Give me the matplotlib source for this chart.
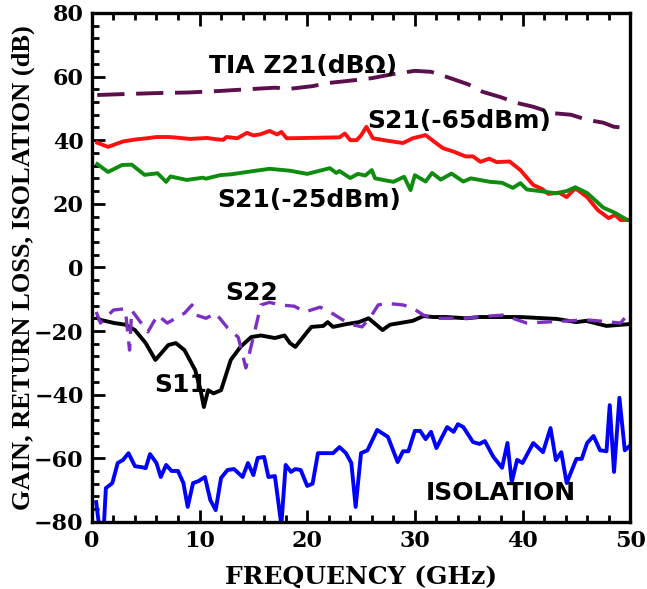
"""Gain, return loss and isolation versus frequency."""

import matplotlib

matplotlib.use("Agg")
import matplotlib.pyplot as plt
from matplotlib.ticker import MultipleLocator

# TIA transimpedance Z21 (dB-ohm)
tia_f = [0.5, 3, 6, 9, 12, 14.4, 17, 18.5, 20.5, 22, 23.7, 26, 28, 30, 31.5,
         33.3, 35, 36.3, 38, 39.5, 41, 42.8, 44.5, 46, 47.5, 48.5, 50]
tia_db = [54.2, 54.5, 54.8, 55, 55.5, 56, 56.5, 56.2, 57, 58, 58.6, 59.5, 60.8,
          61.8, 61.5, 59.5, 57.5, 55.2, 53.5, 51.7, 50.5, 48.5, 48, 46.4, 45.5,
          44.2, 43.8]

# S21 at -65 dBm input
s21a_f = [0.5, 1.5, 2.9, 4, 5.1, 6, 7.2, 8.2, 9.1, 10.7, 11.5, 12.2, 12.5, 13.5,
          14.4, 15, 15.6, 16.5, 17.2, 17.6, 18.1, 20, 23, 23.5, 24, 24.6, 25,
          25.5, 26.1, 27.5, 28.9, 29.8, 31, 32, 32.6, 33.6, 34.7, 35.4, 36.1,
          36.9, 37.6, 38.8, 39.8, 41, 41.8, 42.4, 43.4, 44.1, 44.9, 46, 47, 48,
          48.6, 49.1, 49.9]
s21a_db = [39.2, 37.9, 39.6, 40.2, 40.6, 41, 41, 40.7, 40.4, 40.7, 40.3, 40.1,
           41, 40.6, 42.3, 41.5, 41.8, 42.9, 41.8, 42.6, 40.6, 40.7, 40.9, 42.1,
           40, 40, 41.5, 44.2, 40.6, 39.8, 39.1, 40.6, 41.6, 39, 37.5, 36.4,
           34.9, 34.9, 33.2, 34.2, 33.1, 33.3, 30.6, 25.9, 24.7, 23.1, 23.5,
           22.1, 24.9, 22.1, 18, 15.5, 16.5, 14.9, 14.9]

# S21 at -25 dBm input
s21b_f = [0.5, 1.5, 2.8, 3.7, 4.9, 6.1, 6.9, 7.3, 8.8, 10.3, 10.6, 11.9, 13,
          14.4, 16.5, 18.4, 20, 22.1, 22.7, 23, 24, 24.7, 25.4, 26, 26.3, 28,
          29, 29.6, 30, 31, 31.6, 32.4, 33.4, 34.5, 35.2, 37, 38.1, 39.1, 39.8,
          40.4, 41.6, 43.1, 44.1, 44.9, 46, 47.5, 48.5, 49.7]
s21b_db = [32.5, 30, 32.2, 32.3, 29.1, 29.6, 26.9, 28.6, 27.5, 28.2, 27.9, 29,
           29.3, 30, 31, 30.4, 29.4, 31.2, 29.7, 30.3, 28.1, 29.4, 28.9, 30.6,
           28, 26.9, 28.5, 24.3, 29, 27, 29.7, 27.6, 29.5, 27, 28, 26.9, 26.6,
           25, 26.5, 24.5, 24, 23.3, 24, 25.2, 23.4, 18.8, 17.3, 15]

# S22
s22_f = [0.4, 0.8, 2, 3.1, 3.5, 3.7, 5.2, 6.1, 7, 8.6, 9.3, 9.7, 10.6, 11.5,
         12.6, 13.6, 14.3, 15, 15.7, 16.5, 17.5, 18.8, 19.8, 21.2, 22.3, 23.3,
         24.2, 25.1, 25.9, 26.6, 27.4, 28.9, 29.8, 30.8, 31.7, 33.3, 34.8, 36,
         38.2, 40.4, 43.2, 45.9, 47.7, 49.1, 49.5, 50]
s22_db = [-14, -17.5, -13.4, -13, -26, -13.5, -20.3, -15, -17.5, -14.4, -11.8,
          -15, -16, -14.4, -19, -22, -31.6, -21.9, -11.8, -11, -11.8, -12.2,
          -14, -12.5, -14.4, -16.5, -18, -18.7, -15.5, -11.8, -11.3, -11.8,
          -12.8, -15, -16, -16, -16, -15.5, -15, -17.5, -17, -16.5, -17, -17.5,
          -15.9, -17.5]

# S11
s11_f = [0.5, 0.8, 2.1, 3.1, 4, 5, 5.9, 7.1, 7.8, 8.6, 9.6, 10.1, 10.4, 10.8,
         11.3, 12, 12.9, 13.8, 14.8, 15.7, 17, 17.9, 18.4, 18.9, 20, 20.4, 21.5,
         21.9, 22.4, 23.7, 24.8, 25.7, 27, 27.7, 28.6, 29.8, 30.8, 31.7, 32.9,
         34.8, 36, 39.8, 43.2, 45, 45.9, 47.8, 50]
s11_db = [-15.9, -16.5, -17.5, -18, -19.7, -23.8, -29.1, -24.4, -23.8, -26,
          -32.3, -38.6, -43.9, -38.6, -39.6, -38.6, -29.1, -25, -21.9, -21.4,
          -22.2, -21.4, -23.8, -25, -20.3, -18.7, -18.4, -17.2, -18.7, -17.8,
          -17.2, -16, -19.7, -18, -17.5, -16.8, -15.3, -15.6, -15.6, -16,
          -15.6, -15.6, -16.2, -17.2, -16.8, -18.4, -17.8]

# Isolation
iso_f = [0.4, 0.7, 1.1, 1.3, 1.9, 2.4, 2.9, 3.4, 4, 4.6, 5, 5.4, 6, 6.4, 6.9,
         7.4, 8, 8.5, 8.9, 9.4, 9.9, 10.5, 11, 11.5, 12, 12.6, 13.2, 14, 14.5,
         15, 15.4, 16, 16.4, 17, 17.6, 18, 18.5, 18.9, 19.4, 20, 20.5, 21,
         22.4, 23, 23.6, 24.1, 24.5, 25, 25.6, 26.5, 27.5, 28.4, 28.9, 29.4,
         30, 30.5, 31, 31.5, 32, 33, 33.6, 34, 34.5, 35.4, 36, 36.5, 37.3,
         38.1, 38.6, 39, 39.5, 40, 41, 41.9, 42.6, 43.1, 43.6, 44.1, 45, 45.5,
         46, 46.6, 47.2, 47.8, 48.1, 48.5, 49, 49.5, 50]
iso_db = [-73.8, -82, -82, -69.4, -67.8, -61.5, -60.5, -58.4, -62.5, -62.8,
          -63.1, -58.7, -61.5, -65.9, -62.1, -64, -64, -67.8, -75.3, -67.8,
          -67.2, -65.9, -73.1, -76.3, -66.2, -63.7, -63.4, -65.9, -61.5, -65.3,
          -59.9, -59.6, -65.9, -65.6, -81, -62.1, -64.3, -63.4, -63.7, -68.7,
          -68, -58.4, -58.4, -56.5, -58.4, -61.5, -75.3, -58.4, -57.5, -51.1,
          -53.3, -61.2, -57.8, -57.8, -51.4, -51.4, -54, -51.7, -56.8, -50.2,
          -51.7, -49.3, -50.2, -54.9, -55.5, -54.6, -59.6, -63, -55.2, -67.5,
          -60.5, -61.5, -55.2, -58.1, -50.5, -60.6, -58.1, -67.8, -60.2, -60.2,
          -55.2, -53, -57.5, -57.8, -43.3, -64.3, -41, -57.5, -56]

serif = "DejaVu Serif"
sans = "DejaVu Sans"

fig = plt.figure(figsize=(6.47, 5.89), dpi=100)
ax = fig.add_axes([0.142, 0.114, 0.832, 0.864])

ax.plot(tia_f, tia_db, color="#5b0f4c", lw=2.8, dashes=(7, 3))
ax.plot(s21a_f, s21a_db, color="#ff1010", lw=2.8)
ax.plot(s21b_f, s21b_db, color="#0f8c0f", lw=2.8)
ax.plot(s11_f, s11_db, color="black", lw=2.8)
ax.plot(s22_f, s22_db, color="#7b30c2", lw=2.4, dashes=(4.5, 3))
ax.plot(iso_f, iso_db, color="#0000ff", lw=2.8)

ax.set_xlim(0, 50)
ax.set_ylim(-80, 80)
ax.xaxis.set_major_locator(MultipleLocator(10))
ax.xaxis.set_minor_locator(MultipleLocator(2))
ax.yaxis.set_major_locator(MultipleLocator(20))
ax.yaxis.set_minor_locator(MultipleLocator(4))
ax.tick_params(which="both", direction="in", top=True, right=False, width=2)
ax.tick_params(which="major", length=9)
ax.tick_params(which="minor", length=5)
ax.tick_params(axis="y", pad=6)
ax.tick_params(axis="x", pad=6)
for s in ax.spines.values():
    s.set_linewidth(2.4)

for lab in ax.get_xticklabels() + ax.get_yticklabels():
    lab.set_fontfamily(serif)
    lab.set_fontweight("bold")
    lab.set_fontsize(16)

ax.set_xlabel("FREQUENCY (GHz)", fontfamily=serif, fontweight="bold",
              fontsize=18, labelpad=9)
ax.set_ylabel("GAIN, RETURN LOSS, ISOLATION (dB)", fontfamily="Liberation Serif",
              fontweight="bold", fontsize=19)
ax.yaxis.set_label_coords(-0.105, 0.5)

kw = dict(fontfamily=sans, fontweight="bold", fontsize=18, ha="center", va="center")
ax.text(19.6, 63.3, "TIA Z21(dBΩ)", **kw)
ax.text(34.1, 46, "S21(-65dBm)", **kw)
ax.text(20.2, 21.2, "S21(-25dBm)", **kw)
ax.text(14.8, -8, "S22", **kw)
ax.text(8.3, -37, "S11", **kw)
ax.text(38, -71, "ISOLATION", **kw)

fig.savefig("out.png", dpi=100)
